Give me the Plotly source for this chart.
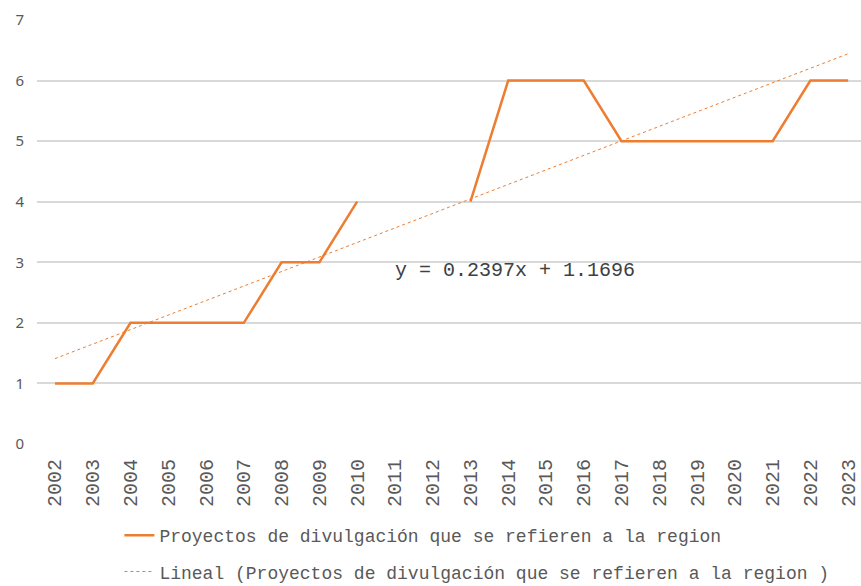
import numpy as np
import plotly.graph_objects as go

years = [str(y) for y in range(2002, 2024)]
values = [1, 1, 2, 2, 2, 2, 3, 3, 4, None, None, 4, 6, 6, 6, 5, 5, 5, 5, 5, 6, 6]
series_name = "Proyectos de divulgación que se refieren a la region"
trend_name = "Lineal (Proyectos de divulgación que se refieren a la region )"

idx = np.arange(len(years))
xs = np.array([i + 1 for i, v in zip(idx, values) if v is not None], dtype=float)
ys = np.array([v for v in values if v is not None], dtype=float)
slope, intercept = np.polyfit(xs, ys, 1)
trend = slope * (idx + 1) + intercept

orange = "#ED7D31"
mono = "Liberation Mono, Courier New, monospace"

fig = go.Figure()
fig.add_trace(go.Scatter(x=idx, y=values, mode="lines", name=series_name,
                         line=dict(color=orange, width=2.5), connectgaps=False,
                         legendgroup="a"))
fig.add_trace(go.Scatter(x=idx, y=trend, mode="lines", name=trend_name,
                         line=dict(color=orange, width=1, dash="dot"),
                         legendgroup="b"))

fig.add_annotation(x=12.19, y=2.87, xref="x", yref="y",
                   text=f"y = {slope:.4f}x + {intercept:.4f}",
                   showarrow=False, font=dict(family=mono, size=20, color="#404040"))

fig.update_layout(
    width=861, height=586,
    margin=dict(l=37, r=0, t=20, b=142, autoexpand=False),
    plot_bgcolor="white", paper_bgcolor="white",
    showlegend=True,
    legend=dict(x=0.1, y=-0.172, xanchor="left", yanchor="top",
                font=dict(family=mono, size=18, color="#595959"),
                tracegroupgap=10, bgcolor="rgba(0,0,0,0)"),
    xaxis=dict(range=[-0.4755, 21.34], tickmode="array", tickvals=list(idx),
               ticktext=years, tickangle=-90, showgrid=False, zeroline=False,
               showline=False, ticks="", automargin=False, ticklabelstandoff=10,
               ticklabeloverflow="allow",
               tickfont=dict(family=mono, size=20, color="#595959")),
    yaxis=dict(range=[0, 7], dtick=1, showgrid=True, gridcolor="#D9D9D9",
               gridwidth=1.5, zeroline=False, showline=False, ticks="",
               automargin=False, ticklabelstandoff=12,
               tickfont=dict(family="Noto Sans, sans-serif", size=15, color="#595959")),
)

fig.write_html("out.html", config={"displayModeBar": False},
               post_script="document.body.style.margin='0';document.body.style.overflow='hidden';")
